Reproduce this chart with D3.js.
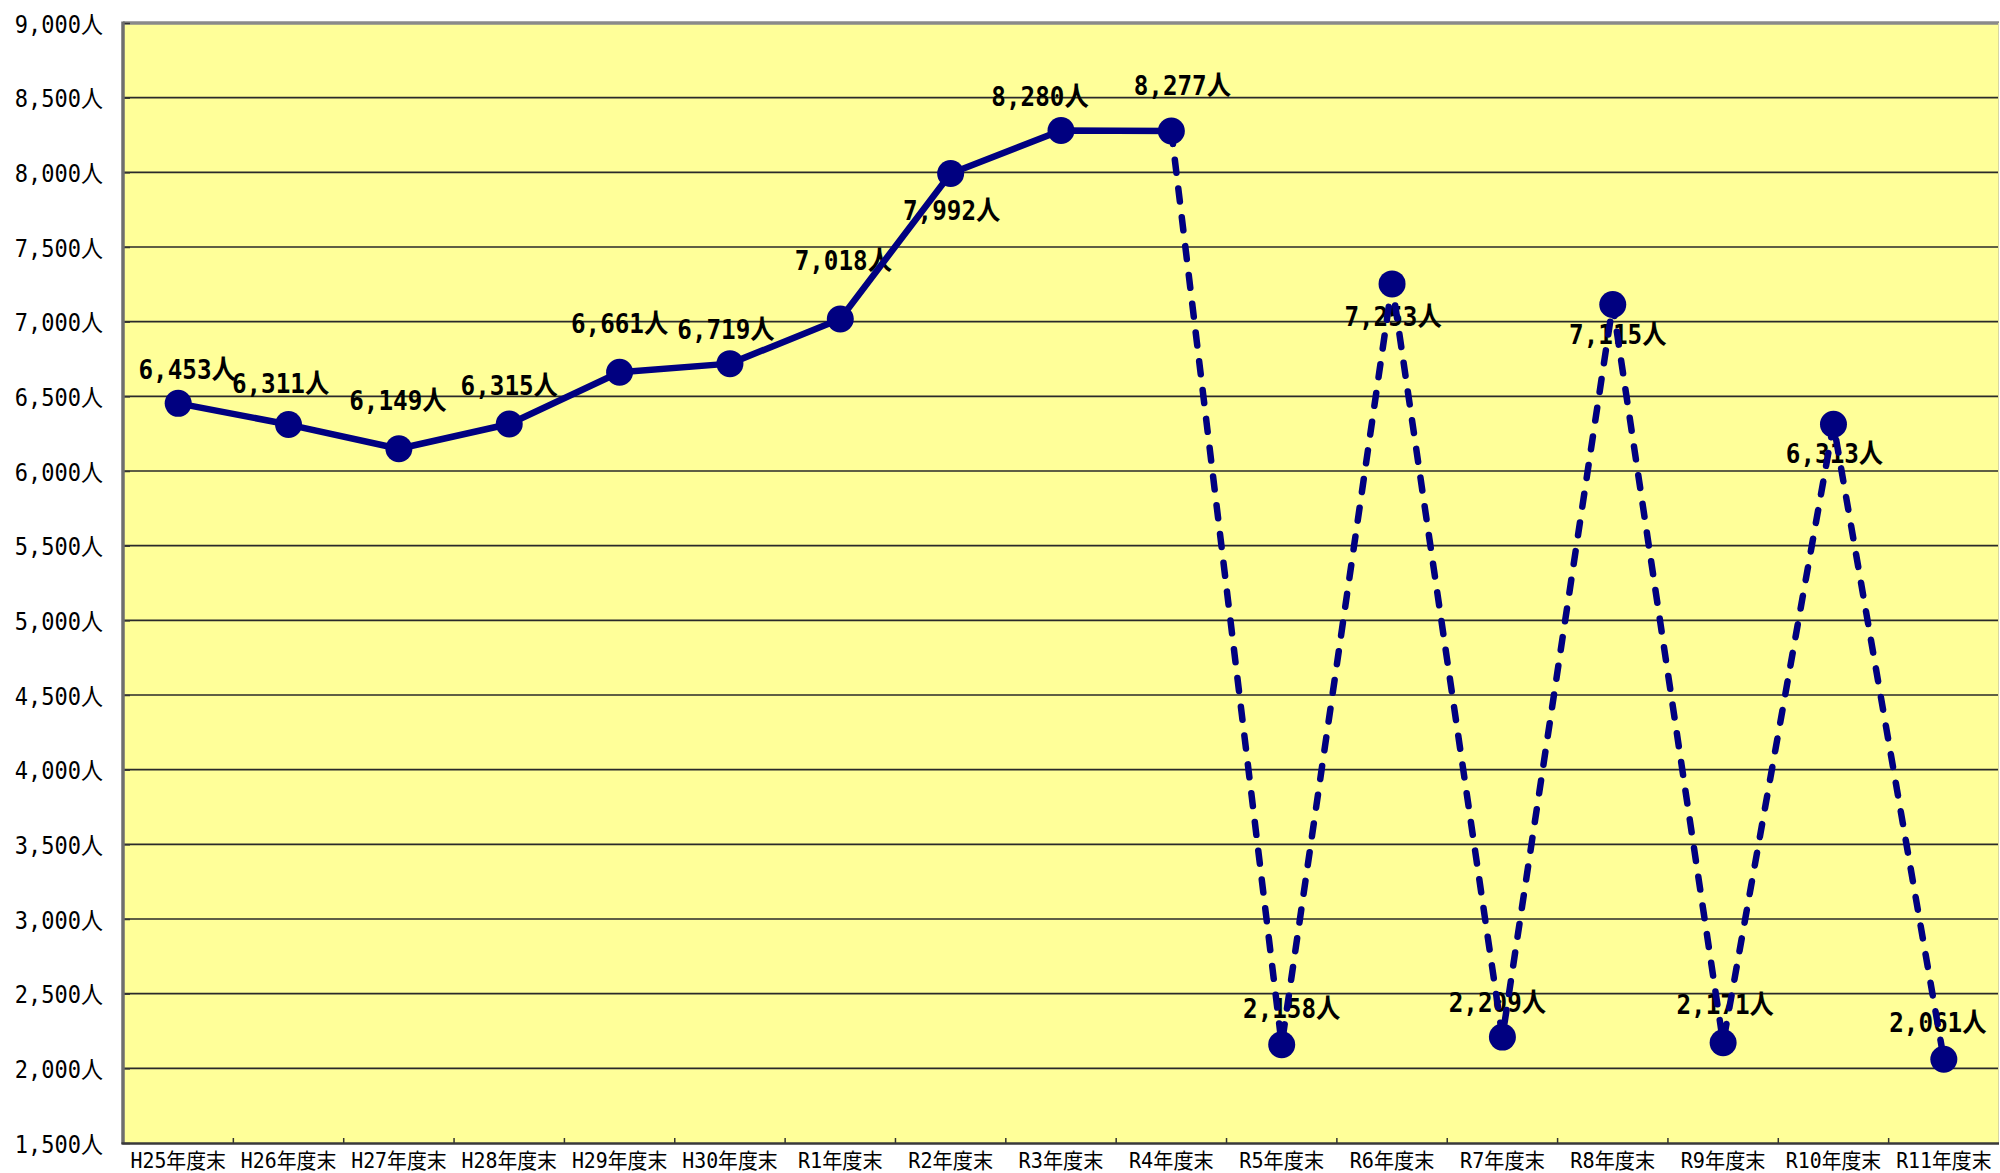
<!DOCTYPE html>
<html>
<head>
<meta charset="utf-8">
<script src="https://cdn.jsdelivr.net/npm/d3@7"></script>
<style>
  html, body { margin: 0; padding: 0; background: #ffffff; }
  svg { display: block; }
</style>
</head>
<body>
<svg id="chart" width="2000" height="1173"></svg>
<script>
// ---- data ----
const categories = ["H25年度末","H26年度末","H27年度末","H28年度末","H29年度末","H30年度末","R1年度末","R2年度末","R3年度末","R4年度末","R5年度末","R6年度末","R7年度末","R8年度末","R9年度末","R10年度末","R11年度末"];
const values = [6453, 6311, 6149, 6315, 6661, 6719, 7018, 7992, 8280, 8277, 2158, 7253, 2209, 7115, 2171, 6313, 2061];
const actualCount = 10; // first 10 points are actual (solid line), rest projected (dashed)
const yTicks = [1500, 2000, 2500, 3000, 3500, 4000, 4500, 5000, 5500, 6000, 6500, 7000, 7500, 8000, 8500, 9000];

// ---- layout (label nudges relative to each point, px) ----
const labelNudge = [[9,-24],[-8,-32],[-1,-39],[0,-29],[0,-39],[-4,-25],[3,-49],[1,46],[-21,-25],[11,-36],[10,-27],[1,42],[-5,-25],[5,40],[2,-29],[1,39],[-6,-27]];

const plot = { left: 123, right: 1999, top: 23, bottom: 1143 };
const svg = d3.select("#chart");
const font = "'DejaVu Sans Mono', 'Noto Sans CJK JP', monospace";

// width emulating a half/full-width monospace Japanese font
function msWidth(str, em) {
  let w = 0;
  for (const ch of str) w += (ch.charCodeAt(0) < 0x2000) ? 0.5 : 1;
  return w * em;
}

const x = d3.scaleBand().domain(categories).range([plot.left, plot.right]).padding(0);
const y = d3.scaleLinear().domain([1500, 9000]).range([plot.bottom, plot.top]);
const cx = (i) => x(categories[i]) + x.bandwidth() / 2;
const fmt = d3.format(",");

// plot background
svg.append("rect")
  .attr("x", plot.left).attr("y", plot.top)
  .attr("width", plot.right - plot.left).attr("height", plot.bottom - plot.top)
  .attr("fill", "#FFFF99");

// gridlines
svg.append("g").selectAll("line").data(yTicks.filter(t => t > 1500 && t < 9000)).join("line")
  .attr("x1", plot.left).attr("x2", plot.right)
  .attr("y1", d => y(d)).attr("y2", d => y(d))
  .attr("stroke", "#2a2a2a").attr("stroke-width", 1.6);

// borders
svg.append("line").attr("x1", plot.left).attr("x2", plot.right).attr("y1", plot.top).attr("y2", plot.top)
  .attr("stroke", "#8a8a8a").attr("stroke-width", 3.5);
svg.append("line").attr("x1", plot.right - 0.5).attr("x2", plot.right - 0.5).attr("y1", plot.top).attr("y2", plot.bottom)
  .attr("stroke", "#d8d8a0").attr("stroke-width", 1);

// y axis
const yAxis = d3.axisLeft(y).tickValues(yTicks).tickSize(-7).tickPadding(20)
  .tickFormat(d => fmt(d) + "人");
const gy = svg.append("g").attr("transform", `translate(${plot.left},0)`).call(yAxis);
gy.select(".domain").remove();
gy.selectAll(".tick line").attr("stroke", "#333").attr("stroke-width", 1.5);
gy.selectAll(".tick text")
  .attr("font-family", font).attr("font-size", 24).attr("fill", "#000")
  .attr("x", -20).attr("dy", null).attr("y", 9)
  .attr("text-anchor", "end")
  .attr("textLength", d => msWidth(fmt(d) + "人", 25.2))
  .attr("lengthAdjust", "spacingAndGlyphs");
svg.append("line").attr("x1", plot.left).attr("x2", plot.left).attr("y1", plot.top - 1.5).attr("y2", plot.bottom + 1)
  .attr("stroke", "#6e6e6e").attr("stroke-width", 3.5);

// x axis
const xAxis = d3.axisBottom(x).tickSize(0).tickPadding(24);
const gx = svg.append("g").attr("transform", `translate(0,${plot.bottom})`).call(xAxis);
gx.select(".domain").remove();
gx.selectAll(".tick text")
  .attr("font-family", font).attr("font-size", 21).attr("fill", "#000")
  .attr("dy", null).attr("y", 25)
  .attr("textLength", d => msWidth(d, 21.2))
  .attr("lengthAdjust", "spacingAndGlyphs");
// x tick marks at band boundaries (pointing inward)
svg.append("g").selectAll("line").data(categories.slice(1)).join("line")
  .attr("x1", d => x(d)).attr("x2", d => x(d))
  .attr("y1", plot.bottom).attr("y2", plot.bottom - 5)
  .attr("stroke", "#333").attr("stroke-width", 1.5);
svg.append("line").attr("x1", plot.left - 1.5).attr("x2", plot.right).attr("y1", plot.bottom + 0.5).attr("y2", plot.bottom + 0.5)
  .attr("stroke", "#3a3a3a").attr("stroke-width", 2.5);

// data labels (drawn beneath the line)
svg.append("g").selectAll("text").data(values).join("text")
  .attr("x", (d, i) => cx(i) + labelNudge[i][0])
  .attr("y", (d, i) => y(d) + labelNudge[i][1])
  .attr("text-anchor", "middle")
  .attr("font-family", font).attr("font-weight", "bold").attr("font-size", 27).attr("fill", "#000")
  .attr("textLength", d => msWidth(fmt(d) + "人", 27.8))
  .attr("lengthAdjust", "spacingAndGlyphs")
  .text(d => fmt(d) + "人");

// lines
const pts = values.map((v, i) => [cx(i), y(v)]);
const line = d3.line();
svg.append("path").attr("d", line(pts.slice(0, actualCount)))
  .attr("fill", "none").attr("stroke", "#000080").attr("stroke-width", 6.5)
  .attr("stroke-linejoin", "round").attr("stroke-linecap", "round");
svg.append("path").attr("d", line(pts.slice(actualCount - 1)))
  .attr("fill", "none").attr("stroke", "#000080").attr("stroke-width", 6.5)
  .attr("stroke-dasharray", "13,16").attr("stroke-linecap", "round").attr("stroke-linejoin", "round");

// markers
svg.append("g").selectAll("circle").data(values).join("circle")
  .attr("cx", (d, i) => cx(i)).attr("cy", d => y(d)).attr("r", 13.5)
  .attr("fill", "#000080");
</script>
</body>
</html>
